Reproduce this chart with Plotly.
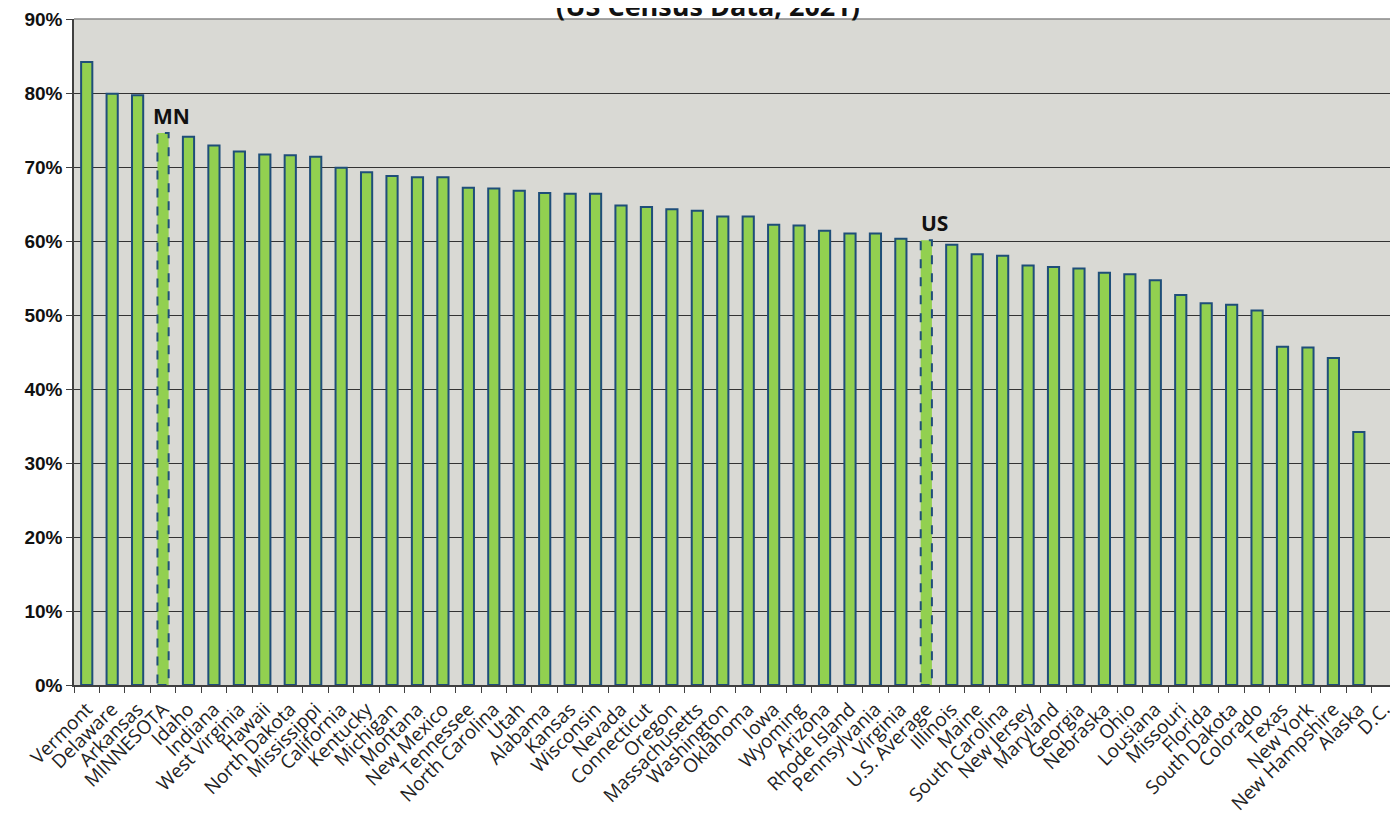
import plotly.graph_objects as go

states = ["Vermont", "Delaware", "Arkansas", "MINNESOTA", "Idaho", "Indiana", "West Virginia", "Hawaii",
          "North Dakota", "Mississippi", "California", "Kentucky", "Michigan", "Montana", "New Mexico",
          "Tennessee", "North Carolina", "Utah", "Alabama", "Kansas", "Wisconsin", "Nevada", "Connecticut",
          "Oregon", "Massachusetts", "Washington", "Oklahoma", "Iowa", "Wyoming", "Arizona", "Rhode Island",
          "Pennsylvania", "Virginia", "U.S. Average", "Illinois", "Maine", "South Carolina", "New Jersey",
          "Maryland", "Georgia", "Nebraska", "Ohio", "Lousiana", "Missouri", "Florida", "South Dakota",
          "Colorado", "Texas", "New York", "New Hampshire", "Alaska", "D.C."]
values = [84.2, 79.9, 79.7, 74.6, 74.1, 72.9, 72.1, 71.7, 71.6, 71.4, 69.9, 69.3, 68.8, 68.6, 68.6,
          67.2, 67.1, 66.8, 66.5, 66.4, 66.4, 64.8, 64.6, 64.3, 64.1, 63.3, 63.3, 62.2, 62.1, 61.4, 61.0,
          61.0, 60.3, 60.1, 59.5, 58.2, 58.0, 56.7, 56.5, 56.3, 55.7, 55.5, 54.7, 52.7, 51.6, 51.4,
          50.6, 45.7, 45.6, 44.2, 34.2, None]
highlight = {"MINNESOTA": "MN", "U.S. Average": "US"}
y_ticks = [0, 10, 20, 30, 40, 50, 60, 70, 80, 90]
title_text = "(US Census Data, 2021)"

GREEN = "#92D050"
BLUE = "#1F4E79"
BAR_W = 0.44

normal_vals = [None if s in highlight else v for s, v in zip(states, values)]
hl_vals = [v if s in highlight else None for s, v in zip(states, values)]

fig = go.Figure()
fig.add_trace(go.Bar(x=states, y=normal_vals, width=BAR_W,
                     marker=dict(color=GREEN, line=dict(color=BLUE, width=2)),
                     showlegend=False, hoverinfo="x+y"))
fig.add_trace(go.Bar(x=states, y=hl_vals, width=BAR_W,
                     marker=dict(color=GREEN, line=dict(width=0)),
                     showlegend=False, hoverinfo="x+y"))

for i, (s, v) in enumerate(zip(states, values)):
    if s in highlight:
        fig.add_shape(type="rect", xref="x", yref="y", x0=i - BAR_W / 2, x1=i + BAR_W / 2,
                      y0=0, y1=v, line=dict(color=BLUE, width=2, dash="dash"), layer="above")
        fig.add_annotation(x=i, y=v, text="<b>" + highlight[s] + "</b>", showarrow=False,
                           xshift=8, yshift=17, font=dict(family="Open Sans", size=21, color="#111"))

fig.add_annotation(xref="paper", yref="paper", x=0.5, y=1, yanchor="bottom", yshift=-7, xshift=-28,
                   text="<b>" + title_text + "</b>",
                   showarrow=False, font=dict(family="Open Sans", size=27, color="#111"))

fig.update_layout(
    width=1398, height=814,
    margin=dict(l=66, r=9, t=11, b=137),
    paper_bgcolor="white", plot_bgcolor="#D9D9D4",
    barmode="overlay", bargap=0.56,
    xaxis=dict(type="category", tickangle=-45, tickson="boundaries", ticks="outside", ticklen=6,
               tickcolor="#404040", showline=True, linecolor="#404040", linewidth=1.5, mirror=False,
               tickfont=dict(family="Open Sans", size=19, color="#222"), showgrid=False,
               ticklabelstandoff=4,
               range=[-0.5, len(states) - 0.5], automargin=False),
    yaxis=dict(range=[0, 90], tickvals=y_ticks, ticktext=[f"<b>{t}%</b>" for t in y_ticks],
               showgrid=True, gridcolor="#333", gridwidth=1, ticks="outside", ticklen=6,
               tickcolor="#404040", showline=True, linecolor="#404040", linewidth=1.5,
               tickfont=dict(family="Liberation Sans", size=19, color="#111"), zeroline=False,
               automargin=False),
)
fig.add_shape(type="line", xref="paper", yref="paper", x0=0, x1=1, y0=1, y1=1, line=dict(color="#888", width=1.5))
fig.add_shape(type="line", xref="paper", yref="paper", x0=1, x1=1, y0=0, y1=1, line=dict(color="#888", width=1.5))

fig.write_html("out.html")
